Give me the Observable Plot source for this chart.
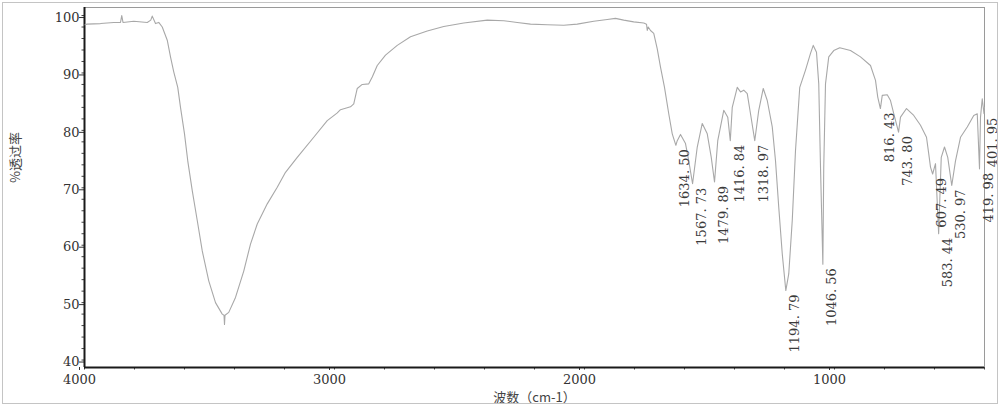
<!DOCTYPE html>
<html>
<head>
<meta charset="utf-8">
<script src="https://cdn.jsdelivr.net/npm/d3@7"></script>
<script src="https://cdn.jsdelivr.net/npm/@observablehq/plot@0.6"></script>
<style>
  html, body { margin: 0; padding: 0; background: #fff; }
  #chart svg { display: block; outline: 1px solid #c4c4c4; outline-offset: -3px; }
</style>
</head>
<body>
<div id="chart"></div>
<script>
// Spectrum: wavenumber (cm-1) and % transmittance
const wavenumber = [
  3998, 3990, 3936, 3883, 3856, 3851, 3846, 3803, 3749, 3735, 3729, 3716, 3703, 3689, 3669,
  3656, 3643, 3627, 3616, 3600, 3587, 3569, 3549, 3529, 3503, 3476, 3449, 3442, 3440, 3438,
  3423, 3396, 3363, 3336, 3309, 3269, 3229, 3196, 3149, 3083, 3029, 2990, 2976, 2936, 2923,
  2909, 2889, 2863, 2849, 2829, 2796, 2749, 2696, 2629, 2563, 2483, 2389, 2323, 2269, 2216,
  2149, 2083, 2029, 1963, 1909, 1876, 1843, 1803, 1763, 1752, 1749, 1745, 1736, 1723, 1709,
  1696, 1680, 1663, 1649, 1634.5, 1629, 1616, 1596, 1583, 1567.73, 1549, 1529, 1509, 1493, 1479.89,
  1467, 1443, 1427, 1416.84, 1409, 1389, 1376, 1363, 1349, 1336, 1318.97, 1303, 1285, 1269, 1249,
  1236, 1223, 1209, 1194.79, 1183, 1169, 1156, 1139, 1116, 1096, 1085, 1072, 1063, 1056, 1046.56,
  1043, 1036, 1023, 1003, 979, 936, 896, 856, 836, 827, 816.43, 809, 789, 776, 763,
  743.8, 736, 712, 683, 656, 632, 623, 616, 607.49, 596, 583.44, 573, 560, 547, 530.97,
  516, 496, 469, 443, 429, 419.98, 416, 409, 401.95, 400
];
const transmittance = [
  98.4, 98.5, 98.6, 98.8, 98.8, 100.0, 98.8, 99.0, 98.8, 99.2, 99.9, 98.6, 98.8, 98.0, 95.7,
  92.8, 90.2, 87.5, 84.0, 79.4, 74.7, 69.5, 64.3, 59.0, 53.8, 50.0, 48.0, 47.8, 46.2, 47.8,
  48.3, 50.9, 55.5, 60.2, 63.7, 67.2, 70.1, 72.7, 75.3, 78.8, 81.7, 83.0, 83.6, 84.1, 84.6,
  87.3, 88.0, 88.1, 89.3, 91.3, 93.1, 94.8, 96.3, 97.3, 98.1, 98.7, 99.2, 99.1, 98.8, 98.5,
  98.4, 98.3, 98.5, 99.0, 99.3, 99.5, 99.2, 98.9, 98.7, 98.5, 97.4, 98.0, 97.4, 96.9, 94.2,
  91.0, 87.5, 82.9, 79.4, 77.4, 78.2, 79.3, 77.7, 74.7, 70.7, 77.1, 81.2, 79.4, 75.3, 71.0,
  78.2, 83.5, 82.3, 78.2, 84.0, 87.5, 86.7, 87.0, 86.4, 82.9, 78.2, 83.5, 87.3, 85.2, 80.6,
  74.7, 66.6, 58.5, 52.1, 55.0, 64.3, 76.5, 87.5, 90.5, 93.4, 94.8, 93.6, 88.1, 73.6, 56.7,
  73.6, 88.1, 92.8, 93.9, 94.4, 93.9, 92.8, 91.3, 88.7, 85.8, 83.8, 86.1, 86.2, 85.2, 82.9,
  79.7, 82.3, 83.8, 82.6, 80.9, 78.8, 75.9, 73.6, 72.4, 74.2, 62.0, 75.3, 77.1, 75.3, 70.4,
  74.7, 78.8, 80.6, 82.6, 82.9, 73.3, 82.3, 85.5, 82.9, 84.0
];

// Labelled peaks
const peakWn = [1634.50, 1567.73, 1479.89, 1416.84, 1318.97, 1194.79, 1046.56, 816.43, 743.80, 607.49, 583.44, 530.97, 419.98, 401.95];
const peakT  = [77.4, 70.7, 71.0, 78.2, 78.2, 52.1, 56.7, 83.8, 79.7, 72.4, 62.0, 70.4, 73.3, 82.9];

// Axes
const xDomain = [4000, 400];
const yDomain = [38.7, 101.4];
const xTicks = [4000, 3000, 2000, 1000];
const xMinorTicks = d3.range(4000, 399, -200);
const yTicks = [40, 50, 60, 70, 80, 90, 100];
const yMinorTicks = d3.range(40, 101, 2);
const xLabel = "波数（cm-1）";
const yLabel = "%透过率";

const spectrum = wavenumber.map((w, i) => ({w, t: transmittance[i]}));
const peaks = peakWn.map((w, i) => ({w, t: peakT[i], label: w.toFixed(2).replace(".", ". ")}));

const serif = "'DejaVu Serif', 'Noto Sans CJK SC', serif";

const chart = Plot.plot({
  width: 1000,
  height: 406,
  marginLeft: 84,
  marginRight: 16,
  marginTop: 7,
  marginBottom: 39,
  x: {domain: xDomain, label: null},
  y: {domain: yDomain, label: null},
  style: {fontFamily: serif, fontSize: "13px", background: "#fff", color: "#2a2a2a", overflow: "visible"},
  marks: [
    Plot.frame({stroke: "#9a9a9a", strokeWidth: 1}),
    Plot.axisY({ticks: yMinorTicks, tickSize: 2.5, text: null, label: null, stroke: "#444"}),
    Plot.axisY({ticks: yTicks, tickSize: 5, tickPadding: 0, label: null, tickFormat: d => String(d), dy: 2, stroke: "#333", fill: "#333"}),
    Plot.axisX({ticks: xMinorTicks, tickSize: 2.5, text: null, label: null, stroke: "#444"}),
    Plot.axisX({ticks: xTicks, tickSize: 3, tickPadding: 4, label: null, tickFormat: d => String(d), dx: -5, stroke: "#333", fill: "#333"}),
    Plot.ruleX([xDomain[0]], {stroke: "#1a1a1a", strokeWidth: 2}),
    Plot.ruleY([yDomain[0]], {stroke: "#1a1a1a", strokeWidth: 2}),
    Plot.line(spectrum, {x: "w", y: "t", stroke: "#a8a8a8", strokeWidth: 1.1}),
    Plot.text(peaks, {x: "w", y: "t", text: "label", rotate: -90, textAnchor: "end", lineAnchor: "top", dx: 4, dy: 4, fill: "#3a3a3a", fontSize: 13}),
    Plot.text([yLabel], {frameAnchor: "left", text: d => d, rotate: -90, textAnchor: "middle", lineAnchor: "middle", dx: -69, dy: -30, fill: "#444", fontSize: 13, fontFamily: "'Noto Sans CJK SC', sans-serif"}),
    Plot.text([xLabel], {frameAnchor: "bottom", text: d => d, textAnchor: "middle", lineAnchor: "middle", dy: 30, fill: "#444", fontSize: 13, fontFamily: "'Noto Sans CJK SC', sans-serif"})
  ]
});

document.getElementById("chart").appendChild(chart);
</script>
</body>
</html>
